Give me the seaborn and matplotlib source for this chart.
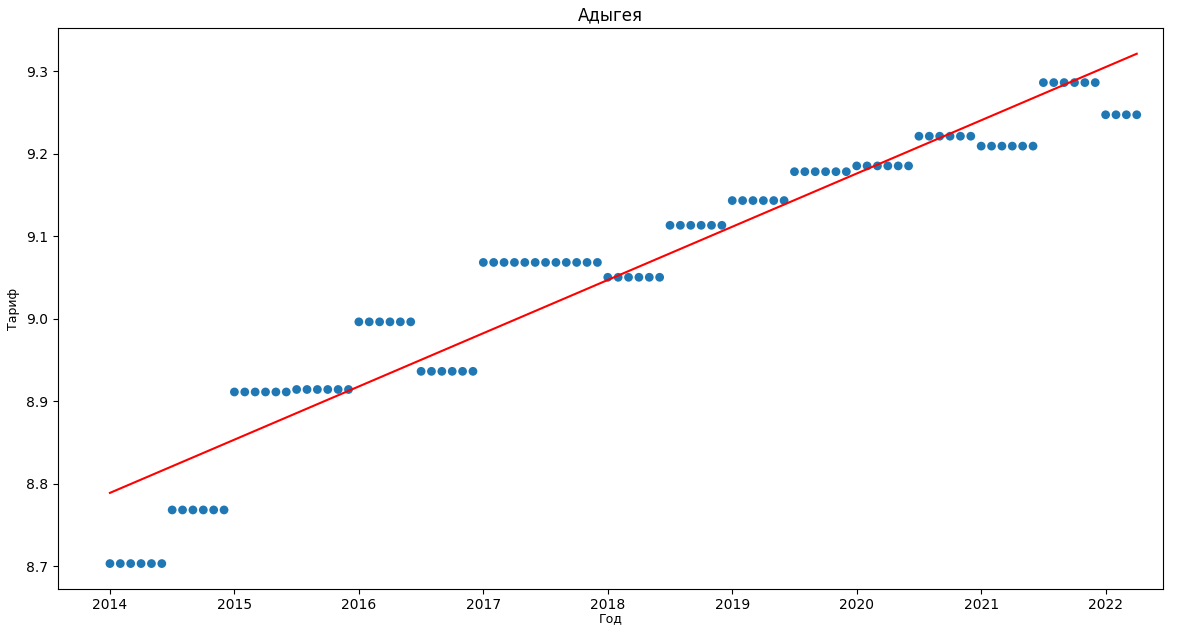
import numpy as np
import pandas as pd
import matplotlib
matplotlib.use("Agg")
import matplotlib.pyplot as plt
import seaborn as sns

# Tariff levels per period (monthly observations), Adygea
period_start = ["2014-01", "2014-07", "2015-01", "2015-07", "2016-01", "2016-07",
                "2017-01", "2018-01", "2018-07", "2019-01", "2019-07", "2020-01",
                "2020-07", "2021-01", "2021-07", "2022-01"]
period_months = [6, 6, 6, 6, 6, 6, 12, 6, 6, 6, 6, 6, 6, 6, 6, 4]
tariff_levels = [8.703, 8.768, 8.911, 8.914, 8.996, 8.936, 9.068, 9.050,
                 9.113, 9.143, 9.178, 9.185, 9.221, 9.209, 9.286, 9.247]

# Expand periods into monthly rows
years, tariffs = [], []
for start, n, val in zip(period_start, period_months, tariff_levels):
    y, m = map(int, start.split("-"))
    for k in range(n):
        mm = m - 1 + k
        years.append(y + mm / 12.0)
        tariffs.append(val)
df = pd.DataFrame({"year": years, "tariff": tariffs})

fig = plt.figure(figsize=(11.77, 6.28), dpi=100)
ax = fig.add_axes([0.049, 0.062, 0.939, 0.893])

sns.scatterplot(data=df, x="year", y="tariff", ax=ax, color="#1f77b4",
                s=40, edgecolor="none")
sns.regplot(data=df, x="year", y="tariff", ax=ax, scatter=False, ci=None,
            color="red", line_kws={"linewidth": 1.5})

ax.set_xlim(2013.58, 2022.46)
ax.set_xticks(range(2014, 2023))
ax.set_xticklabels([str(t) for t in range(2014, 2023)])
ax.set_yticks([8.7, 8.8, 8.9, 9.0, 9.1, 9.2, 9.3])
ax.set_yticklabels(["8.7", "8.8", "8.9", "9.0", "9.1", "9.2", "9.3"])
ax.tick_params(axis="x", pad=3)
ax.set_title("Адыгея")
ax.set_xlabel("Год", labelpad=0, fontsize=9)
ax.set_ylabel("Тариф", fontsize=9)

fig.savefig("out.png", dpi=100)
